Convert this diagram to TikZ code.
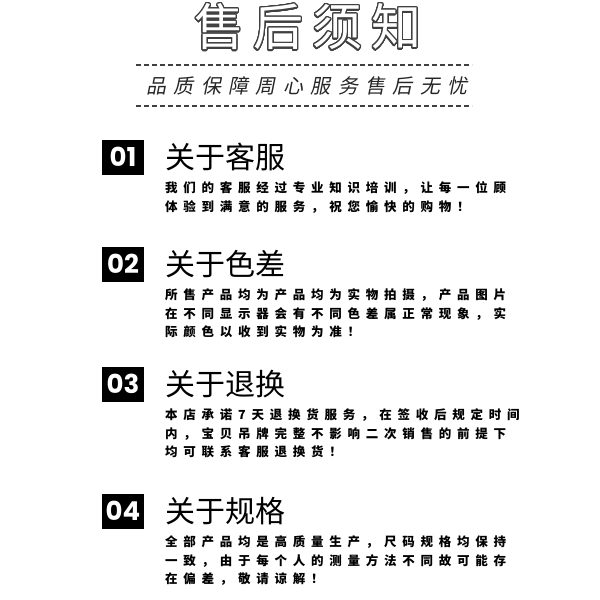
\documentclass[tikz,border=0pt]{standalone}
\usepackage{fontspec}
\usepackage{contour}
\setmainfont{Noto Sans CJK SC}
\newfontfamily\titlefont[LetterSpace=18]{Noto Sans CJK SC}
\newfontfamily\subfont[LetterSpace=37,FakeSlant=0.2]{Noto Sans CJK SC}
\newfontfamily\headfont{Noto Sans CJK SC}
\newfontfamily\bodyfont[LetterSpace=46]{Noto Sans CJK SC}
\newfontfamily\numfont{Poppins}
\contourlength{1.2pt}
\contournumber{32}

\begin{document}
\begin{tikzpicture}[x=1pt,y=-1pt]

\tikzstyle title=[inner sep=0, font=\titlefont\fontsize{50}{50}\selectfont]
\tikzstyle slogan=[inner sep=0, text=black!85, font=\subfont\fontsize{20}{20}\selectfont]
\tikzstyle numbox=[fill=black, text=white, inner sep=0, minimum width=42, minimum height=35, font=\numfont\bfseries\fontsize{26}{26}\selectfont]
\tikzstyle head=[anchor=west, inner sep=0, font=\headfont\fontsize{30}{30}\selectfont]
\tikzstyle body=[anchor=base west, inner sep=0, align=left, font=\bodyfont\bfseries\fontsize{12.5}{18.3}\selectfont]
\tikzstyle rule=[dashed, dash pattern=on 4.7pt off 3.3pt, line width=1.2pt, black!75]

\fill[white] (0,0) rectangle (600,600);
\useasboundingbox (0,0) rectangle (600,600);

\node (t) [title] at (308,27.5) {\contour{black!75}{\textcolor{white}{售后须知}}};
\coordinate (r1a) at (136,65);
\coordinate (r1b) at (472,65);
\coordinate (r2a) at (136,106);
\coordinate (r2b) at (472,106);
\draw [rule] (r1a) -- (r1b);
\draw [rule] (r2a) -- (r2b);
\node (s) [slogan] at (307,86) {品质保障周心服务售后无忧};

\node (n1) [numbox] at (123,157) {01};
\node (h1) [head] at (165,157) {关于客服};
\node (b1) [body] at (165,211) {我们的客服经过专业知识培训，让每一位顾\\体验到满意的服务，祝您愉快的购物！};

\node (n2) [numbox] at (123,264) {02};
\node (h2) [head] at (165,264) {关于色差};
\node (b2) [body] at (165,336.5) {所售产品均为产品均为实物拍摄，产品图片\\在不同显示器会有不同色差属正常现象，实\\际颜色以收到实物为准！};

\node (n3) [numbox] at (123,384) {03};
\node (h3) [head] at (165,384) {关于退换};
\node (b3) [body] at (165,456.5) {本店承诺7天退换货服务，在签收后规定时间\\内，宝贝吊牌完整不影响二次销售的前提下\\均可联系客服退换货！};

\node (n4) [numbox] at (123,511) {04};
\node (h4) [head] at (165,511) {关于规格};
\node (b4) [body] at (165,583.5) {全部产品均是高质量生产，尺码规格均保持\\一致，由于每个人的测量方法不同故可能存\\在偏差，敬请谅解！};

\end{tikzpicture}
\end{document}
